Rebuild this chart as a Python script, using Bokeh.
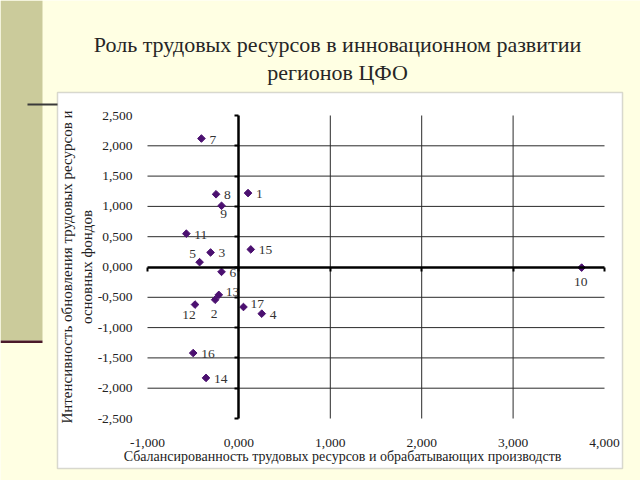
import math
from bokeh.plotting import figure
from bokeh.models import (Range1d, FixedTicker, LinearAxis, CustomJSTickFormatter,
                          BoxAnnotation, Label, ColumnDataSource)
from bokeh.core.properties import value
from bokeh.embed import file_html
from bokeh.resources import INLINE

# ---------------- data ----------------
title_lines = ["Роль трудовых ресурсов в инновационном развитии", "регионов ЦФО"]
x_title = "Сбалансированность трудовых ресурсов и обрабатывающих производств"
y_title = "Интенсивность обновления трудовых ресурсов и\nосновных фондов"

region_ids = ["1", "2", "3", "4", "5", "6", "7", "8", "9", "10",
              "11", "12", "13", "14", "15", "16", "17"]
balance = [0.10, -0.26, -0.31, 0.25, -0.43, -0.19, -0.41, -0.25, -0.19, 3.75,
           -0.575, -0.48, -0.22, -0.36, 0.13, -0.50, 0.05]
renewal = [1.22, -0.54, 0.24, -0.77, 0.08, -0.08, 2.12, 1.20, 1.01, -0.01,
           0.55, -0.62, -0.46, -1.83, 0.29, -1.42, -0.66]

x_ticks = [-1, 0, 1, 2, 3, 4]
y_ticks = [-2.5, -2.0, -1.5, -1.0, -0.5, 0.0, 0.5, 1.0, 1.5, 2.0, 2.5]

# ---------------- style / layout ----------------
placement = ["r", "b", "r", "r", "lt", "r", "r", "r", "br", "b",
             "r", "bl", "ru", "r", "r", "r", "ru"]
offsets = {"r": (8, 1), "ru": (7, -3), "b": (-1, 14), "lt": (-7, -8), "br": (2, 8), "bl": (-6, 10)}

FONT = "Liberation Serif"
BG = "#FFFFE3"
MARK = "#4B1070"
W, H = 640, 480
AREA_L, AREA_R, AREA_T, AREA_B = 147, 604, 115, 418   # plot area in page pixels

xmin, xmax = x_ticks[0], x_ticks[-1]
ymin, ymax = y_ticks[0], y_ticks[-1]
sx = (AREA_R - AREA_L) / (xmax - xmin)
sy = (AREA_B - AREA_T) / (ymax - ymin)
X0 = xmin - AREA_L / sx
X1 = xmax + (W - AREA_R) / sx
Y1 = ymax + AREA_T / sy
Y0 = ymin - (H - AREA_B) / sy


def px(u):
    return X0 + u / sx


def py(v):
    return Y1 - v / sy


p = figure(width=W, height=H, x_range=Range1d(X0, X1), y_range=Range1d(Y0, Y1),
           output_backend="svg", toolbar_location=None, title=None,
           x_axis_location=None, y_axis_location=None, min_border=0,
           border_fill_color=BG, background_fill_color=BG, outline_line_color=None)
for g in list(p.grid):
    g.visible = False

# ---------------- slide decorations ----------------
p.add_layout(BoxAnnotation(left=px(57), right=px(622), top=py(92), bottom=py(468),
                           fill_color="white", fill_alpha=1, line_color="#7f7f7f",
                           line_width=1.5, level="image"))
p.add_layout(BoxAnnotation(right=px(42), bottom=py(340), fill_color="#CBCB9B", fill_alpha=1,
                           line_color=None, level="image"))
p.add_layout(BoxAnnotation(right=px(42), top=py(340), bottom=py(342.5), fill_color="#4a1a2a",
                           fill_alpha=1, line_color=None, level="image"))
p.add_layout(BoxAnnotation(left=px(27), right=px(57), top=py(103), bottom=py(105),
                           fill_color="#3a3a3a", fill_alpha=1, line_color=None, level="image"))

# ---------------- grid ----------------
gx = [t for t in x_ticks if t not in (xmin, 0, xmax)]
gy = [t for t in y_ticks if t not in (ymin, 0, ymax)]
p.segment(x0=gx, y0=[ymin] * len(gx), x1=gx, y1=[ymax] * len(gx),
          line_color="#2a2a2a", line_width=1)
p.segment(x0=[xmin] * len(gy), y0=gy, x1=[xmax] * len(gy), y1=gy,
          line_color="#2a2a2a", line_width=1)

# ---------------- axes ----------------
fmt = CustomJSTickFormatter(code="return tick.toFixed(3).replace('.', ',');")
empty = CustomJSTickFormatter(code="return '';")

xlab = LinearAxis(fixed_location=ymin, ticker=FixedTicker(ticks=x_ticks), formatter=fmt,
                  bounds=(xmin, xmax), axis_line_color=None, major_tick_line_color=None,
                  minor_tick_line_color=None, major_label_standoff=14,
                  major_label_text_font=FONT, major_label_text_font_size="13.5px",
                  major_label_text_color="#222222")
ylab = LinearAxis(fixed_location=xmin, ticker=FixedTicker(ticks=y_ticks), formatter=fmt,
                  bounds=(ymin, ymax), axis_line_color=None, major_tick_line_color=None,
                  minor_tick_line_color=None, major_label_standoff=9,
                  major_label_text_font=FONT, major_label_text_font_size="13.5px",
                  major_label_text_color="#222222",
                  axis_label=y_title, axis_label_text_font=FONT,
                  axis_label_text_font_style="normal", axis_label_text_font_size="15px",
                  axis_label_text_color="#222222", axis_label_standoff=0)
p.add_layout(xlab, "below")
p.add_layout(ylab, "left")

xz = LinearAxis(fixed_location=0, ticker=FixedTicker(ticks=x_ticks), formatter=empty,
                bounds=(xmin, xmax), axis_line_width=2.5, axis_line_color="black",
                major_tick_in=0, major_tick_out=4, major_tick_line_width=2,
                minor_tick_line_color=None, major_label_standoff=0,
                major_label_text_font_size="1px")
yz = LinearAxis(fixed_location=0, ticker=FixedTicker(ticks=y_ticks), formatter=empty,
                bounds=(ymin, ymax), axis_line_width=2.5, axis_line_color="black",
                major_tick_in=0, major_tick_out=4, major_tick_line_width=2,
                minor_tick_line_color=None, major_label_standoff=0,
                major_label_text_font_size="1px")
p.add_layout(xz, "below")
p.add_layout(yz, "left")

# ---------------- titles ----------------
for i, line in enumerate(title_lines):
    p.add_layout(Label(x=px(337), y=py(44 + 28 * i), text=line,
                       text_align="center", text_baseline="middle", text_font=FONT,
                       text_font_size="22px", text_color="#262626"))
p.add_layout(Label(x=px(342), y=py(456), text=x_title,
                   text_align="center", text_baseline="middle", text_font=FONT,
                   text_font_size="14px", text_color="#222222"))

# ---------------- points ----------------
p.scatter(balance, renewal, marker="square", size=5.4, angle=math.pi / 4,
          fill_color=MARK, line_color=MARK)

right_idx = [i for i, c in enumerate(placement) if c in ("r", "ru")]
other_idx = [i for i, c in enumerate(placement) if c not in ("r", "ru")]
for idx, align in ((right_idx, "left"), (other_idx, "center")):
    src = ColumnDataSource(dict(
        x=[balance[i] for i in idx], y=[renewal[i] for i in idx],
        t=[region_ids[i] for i in idx],
        dx=[offsets[placement[i]][0] for i in idx],
        dy=[offsets[placement[i]][1] for i in idx]))
    p.text("x", "y", text="t", source=src, x_offset="dx", y_offset="dy",
           text_align=align, text_baseline="middle", text_font=value(FONT),
           text_font_size="13.5px", text_color="#333333")

open("out.html", "w").write(file_html(p, INLINE))
